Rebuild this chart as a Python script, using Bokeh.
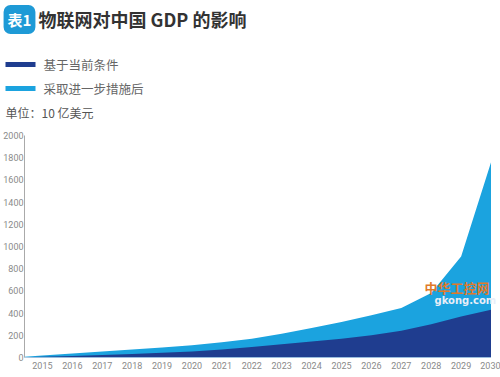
from bokeh.plotting import figure
from bokeh.layouts import column
from bokeh.models import Range1d, FixedTicker, Label, BoxAnnotation
from bokeh.embed import file_html
from bokeh.resources import INLINE

# ---- data (units: 10 亿美元) ----
years = [2014, 2015, 2016, 2017, 2018, 2019, 2020, 2021, 2022,
         2023, 2024, 2025, 2026, 2027, 2028, 2029, 2030]
baseline = [0, 6, 14, 22, 32, 42, 55, 72, 95,
            120, 145, 170, 200, 240, 300, 370, 430]          # 基于当前条件
with_measures = [0, 18, 35, 55, 72, 90, 110, 137, 170,
                 215, 265, 320, 380, 445, 580, 910, 1760]    # 采取进一步措施后
y_ticks = [0, 200, 400, 600, 800, 1000, 1200, 1400, 1600, 1800, 2000]
x_ticks = list(range(2015, 2031))

title_text = "物联网对中国 GDP 的影响"
badge_text = "表1"
legend_labels = ["基于当前条件", "采取进一步措施后"]
unit_text = "单位：10 亿美元"

DARK = "#1f3d8f"
LIGHT = "#1ba3df"
CJK = "Noto Sans CJK SC"

W = 500
HEAD_H = 121
CHART_H = 256

# ---------- header (title + legend + unit) ----------
h = figure(width=W, height=HEAD_H, output_backend="svg", toolbar_location=None,
           x_range=Range1d(0, W), y_range=Range1d(HEAD_H, 0),
           x_axis_location=None, y_axis_location=None,
           min_border=0)
h.frame_align = False
h.outline_line_color = None
h.grid.visible = False

h.add_layout(Label(x=19, y=19, text=badge_text, text_color="white", text_font=CJK,
                   text_font_style="bold", text_font_size="15px",
                   text_align="center", text_baseline="middle",
                   background_fill_color="#1e9ad6", border_radius=7,
                   padding=4))
h.add_layout(Label(x=38, y=18, text=title_text, text_color="#333333", text_font=CJK,
                   text_font_style="bold", text_font_size="18px",
                   text_baseline="middle"))

for i, (lab, col) in enumerate(zip(legend_labels, [DARK, LIGHT])):
    yy = 64 + 24 * i
    h.add_layout(BoxAnnotation(left=5, right=35, top=yy - 2.5, bottom=yy + 2.5,
                               fill_color=col, fill_alpha=1, line_color=None))
    h.add_layout(Label(x=43, y=yy, text=lab, text_color="#666666", text_font=CJK,
                       text_font_size="12.5px", text_baseline="middle"))

h.add_layout(Label(x=5, y=112, text=unit_text, text_color="#555555", text_font=CJK,
                   text_font_size="12px", text_baseline="middle"))

# ---------- chart ----------
p = figure(width=W, height=CHART_H, output_backend="svg", toolbar_location=None,
           x_range=Range1d(2014.4, 2030.25), y_range=Range1d(0, 2000),
           min_border_left=20, min_border_right=2,
           min_border_top=14, min_border_bottom=20)
p.frame_align = False
p.outline_line_color = None
p.grid.visible = False

p.varea(x=years, y1=0, y2=with_measures, fill_color=LIGHT)
p.varea(x=years, y1=0, y2=baseline, fill_color=DARK)

p.yaxis.ticker = FixedTicker(ticks=y_ticks)
p.xaxis.ticker = FixedTicker(ticks=x_ticks)
for ax in (p.xaxis, p.yaxis):
    ax.major_tick_line_color = None
    ax.minor_tick_line_color = None
    ax.major_tick_out = 0
    ax.major_tick_in = 0
    ax.axis_label_standoff = 0
    ax.major_label_text_font = "Roboto"
    ax.major_label_text_font_size = "9px"
    ax.major_label_text_color = "#8a8a8a"
p.yaxis.axis_line_color = "#aaaaaa"
p.yaxis.major_label_standoff = 1
p.xaxis.axis_line_color = None
p.xaxis.major_label_standoff = 4

# watermark (screen units relative to the plot frame)
p.add_layout(Label(x=400, y=70, x_units="screen", y_units="screen",
                   text="中华工控网", text_color="#e07a2a", text_font=CJK,
                   text_font_style="bold", text_font_size="13px",
                   text_baseline="middle"))
p.add_layout(Label(x=410, y=57, x_units="screen", y_units="screen",
                   text="gkong.com", text_color="#e8eef8", text_font="DejaVu Sans",
                   text_font_style="bold", text_font_size="10px",
                   text_baseline="middle"))

open("out.html", "w").write(file_html(column(h, p, spacing=0), INLINE))
